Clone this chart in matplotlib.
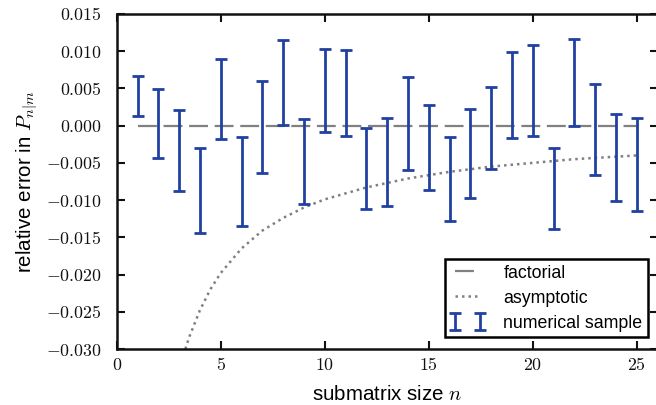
import matplotlib
matplotlib.use("Agg")
import matplotlib.pyplot as plt
from matplotlib.ticker import FuncFormatter

# Data
n_vals = list(range(1, 26))
err_top = [0.00672, 0.00493, 0.00215, -0.00296, 0.00896, -0.00148, 0.00605, 0.01155,
           0.00090, 0.01025, 0.01017, -0.00031, 0.00105, 0.00649, 0.00282, -0.00148,
           0.00219, 0.00524, 0.00994, 0.01079, -0.00305, 0.01169, 0.00555, 0.00157, 0.00103]
err_bot = [0.00134, -0.00434, -0.00873, -0.01442, -0.00175, -0.01343, -0.00636, 0.00013,
           -0.01057, -0.00080, -0.00143, -0.01119, -0.01075, -0.00595, -0.00864, -0.01281,
           -0.00978, -0.00582, -0.00170, -0.00143, -0.01388, -0.00004, -0.00658, -0.01007, -0.01146]

factorial_n = [1, 25]
factorial_v = [0.0, 0.0]

asym_n = [3.3, 3.5, 4, 4.5, 5, 6, 7, 8, 9, 10, 12, 14, 16, 18, 20, 22, 25]
asym_v = [-0.0300, -0.0283, -0.0248, -0.0220, -0.0198, -0.0165, -0.0141, -0.0124,
          -0.0110, -0.0099, -0.0083, -0.0071, -0.0062, -0.0055, -0.0050, -0.0045, -0.0040]

yticks = [-0.030, -0.025, -0.020, -0.015, -0.010, -0.005, 0.000, 0.005, 0.010, 0.015]
xticks = [0, 5, 10, 15, 20, 25]

plt.rcParams['mathtext.fontset'] = 'cm'
plt.rcParams['font.family'] = ['Liberation Sans', 'DejaVu Sans']

fig = plt.figure(figsize=(6.56, 4.05), dpi=100)
ax = fig.add_axes([116.7 / 656, 1 - 349 / 405, (657.5 - 116.7) / 656, (349 - 14) / 405])

blue = '#2141a1'
gray = '#808080'

centers = [(t + b) / 2 for t, b in zip(err_top, err_bot)]
half = [(t - b) / 2 for t, b in zip(err_top, err_bot)]

ax.plot(factorial_n, factorial_v, linestyle=(0, (8.5, 3)), color=gray, lw=1.6,
        label='factorial', zorder=1)
ax.plot(asym_n, asym_v, linestyle=(0, (1, 1.6)), color=gray, lw=1.8,
        label='asymptotic', zorder=1)
ax.errorbar(n_vals, centers, yerr=half, fmt='none', ecolor=blue, elinewidth=2.0,
            capsize=4.5, capthick=2.0, label='numerical sample', zorder=2)

ax.set_xlim(0, 26)
ax.set_ylim(-0.030, 0.015)
ax.set_xticks(xticks)
ax.set_yticks(yticks)
ax.xaxis.set_major_formatter(FuncFormatter(lambda v, p: r'$%d$' % v))
ax.yaxis.set_major_formatter(FuncFormatter(lambda v, p: r'$%.3f$' % v if abs(v) > 1e-9 else r'$0.000$'))
ax.tick_params(direction='in', length=6, width=1.5, top=True, right=True,
               labelsize=12.8, colors='#111111')
ax.tick_params(axis='x', pad=6)
ax.tick_params(axis='y', pad=11)
for s in ax.spines.values():
    s.set_linewidth(1.8)
    s.set_color('#111111')

ax.set_xlabel(r'submatrix size $n$', fontsize=14.8, labelpad=8)
ax.set_ylabel(r'relative error in $P_{n|m}$', fontsize=14.8, labelpad=5)

leg = ax.legend(loc='lower right', numpoints=2, fontsize=12.8, fancybox=False,
                framealpha=1, edgecolor='black', borderpad=0.3, handlelength=2.0,
                handletextpad=1.0, labelspacing=0.45, borderaxespad=0.3,
                bbox_to_anchor=(0.992, 0.02))
leg.get_frame().set_linewidth(1.8)

fig.savefig('out.png', dpi=100)
